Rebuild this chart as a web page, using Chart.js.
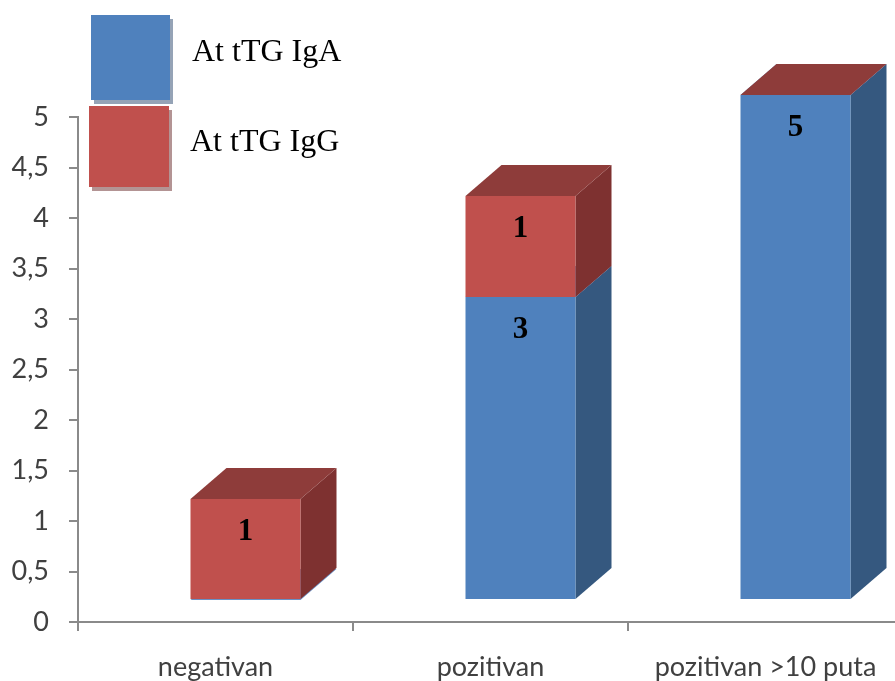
<!DOCTYPE html>
<html>
<head>
<meta charset="utf-8">
<script src="https://cdn.jsdelivr.net/npm/chart.js@4.4.0/dist/chart.umd.min.js"></script>
<style>
	html, body { margin: 0; padding: 0; background: #fff; overflow: hidden; }
	#wrap { position: relative; width: 895px; height: 681px; overflow: hidden; }
	canvas { display: block; }
</style>
</head>
<body>
<div id="wrap"><canvas id="chart" width="905" height="681"></canvas></div>
<script>
const categories = ["negativan", "pozitivan", "pozitivan >10 puta"];
const seriesNames = ["At tTG IgA", "At tTG IgG"];
const igaValues = [0, 3, 5];
const iggValues = [1, 1, 0];
const yMax = 5;
const yStep = 0.5;

// front / side / top colours of each series
const faces = [
	{ front: "#4F81BD", side: "#35587F", top: "#6990C4", shadow: "#95A3B6" },
	{ front: "#C0504D", side: "#7E3130", top: "#8E3C3A", shadow: "#B39494" },
];

// 3d look: front face pushed right/up from the scale, depth goes up-right
const shift = { x: 30, y: 22 };
const depth = { x: 36, y: 31 };

const box3d = {
	id: "box3d",
	afterDatasetsDraw(chart) {
		const ctx = chart.ctx;
		const metas = chart.data.datasets.map((ds, d) => chart.getDatasetMeta(d));
		ctx.save();
		categories.forEach((c, i) => {
			metas.forEach((meta, d) => {
				const bar = meta.data[i];
				const col = faces[d];
				const left = bar.x - bar.width / 2 + shift.x;
				const right = bar.x + bar.width / 2 + shift.x;
				const top = bar.y - shift.y;
				const bottom = bar.base - shift.y;
				// side
				ctx.fillStyle = col.side;
				ctx.beginPath();
				ctx.moveTo(right, top);
				ctx.lineTo(right + depth.x, top - depth.y);
				ctx.lineTo(right + depth.x, bottom - depth.y);
				ctx.lineTo(right, bottom);
				ctx.closePath();
				ctx.fill();
				// front
				ctx.fillStyle = col.front;
				ctx.fillRect(left, top, right - left, bottom - top);
				// top
				ctx.fillStyle = col.top;
				ctx.beginPath();
				ctx.moveTo(left, top);
				ctx.lineTo(right, top);
				ctx.lineTo(right + depth.x, top - depth.y);
				ctx.lineTo(left + depth.x, top - depth.y);
				ctx.closePath();
				ctx.fill();
			});
		});
		// value labels
		ctx.fillStyle = "#000";
		ctx.font = "bold 31px 'Liberation Serif', 'Times New Roman', serif";
		ctx.textAlign = "center";
		ctx.textBaseline = "middle";
		metas.forEach((meta, d) => {
			meta.data.forEach((bar, i) => {
				const v = chart.data.datasets[d].data[i];
				if (!v) return;
				ctx.fillText(String(v), bar.x + shift.x, bar.y - shift.y + 33);
			});
		});
		ctx.restore();
	},
};

const legendBoxes = {
	id: "legendBoxes",
	afterDraw(chart) {
		const ctx = chart.ctx;
		const items = [
			{ x: 91, y: 15, w: 79, h: 85, tx: 192, ty: 53 },
			{ x: 89, y: 106, w: 80, h: 81, tx: 190, ty: 143 },
		];
		ctx.save();
		items.forEach((it, d) => {
			ctx.fillStyle = faces[d].shadow;
			ctx.fillRect(it.x + 3, it.y + 4, it.w, it.h);
			ctx.fillStyle = faces[d].front;
			ctx.fillRect(it.x, it.y, it.w, it.h);
			ctx.fillStyle = "#000";
			ctx.font = "32px 'Liberation Serif', 'Times New Roman', serif";
			ctx.textAlign = "left";
			ctx.textBaseline = "middle";
			ctx.fillText(chart.data.datasets[d].label, it.tx, it.ty);
		});
		ctx.restore();
	},
};

const axisColor = "#8A8A8A";
const tickFont = { family: "Lato, 'Open Sans', sans-serif", size: 27 };

new Chart(document.getElementById("chart"), {
	type: "bar",
	data: {
		labels: categories,
		datasets: [
			{ label: seriesNames[0], data: igaValues, backgroundColor: "rgba(0,0,0,0)" },
			{ label: seriesNames[1], data: iggValues, backgroundColor: "rgba(0,0,0,0)" },
		],
	},
	options: {
		responsive: false,
		animation: false,
		categoryPercentage: 0.8,
		barPercentage: 0.5,
		layout: { padding: { top: 117, right: 2, left: 0, bottom: 0 } },
		plugins: {
			legend: { display: false },
			tooltip: { enabled: false },
		},
		scales: {
			x: {
				stacked: true,
				grid: {
					offset: true,
					drawOnChartArea: false,
					color: axisColor,
					lineWidth: 2,
					tickLength: 9,
				},
				border: { display: true, color: axisColor, width: 2 },
				ticks: { color: "#404040", font: tickFont, padding: 20, maxRotation: 0 },
				afterFit(scale) { scale.height = 59; },
			},
			y: {
				stacked: true,
				min: 0,
				max: yMax,
				grid: {
					drawOnChartArea: false,
					color: axisColor,
					lineWidth: 2,
					tickLength: 9,
				},
				border: { display: true, color: axisColor, width: 2 },
				ticks: {
					stepSize: yStep,
					color: "#404040",
					font: tickFont,
					padding: 20,
					callback: (v) => String(v).replace(".", ","),
				},
				afterFit(scale) { scale.width = 78; },
			},
		},
	},
	plugins: [box3d, legendBoxes],
});
</script>
</body>
</html>
